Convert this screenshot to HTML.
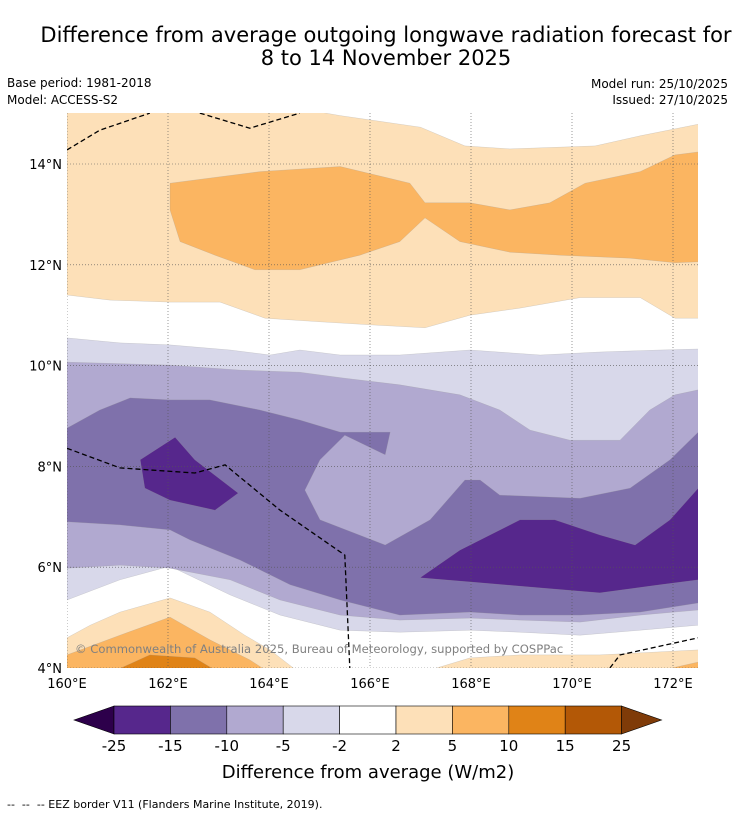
<!DOCTYPE html>
<html><head><meta charset="utf-8">
<style>
body{margin:0;background:#fff;font-family:"Liberation Sans","DejaVu Sans",sans-serif;}
svg{display:block}
</style></head>
<body>
<svg id="map" width="736" height="816" viewBox="0 0 736 816" xmlns="http://www.w3.org/2000/svg" font-family="DejaVu Sans, Liberation Sans, sans-serif">
  <text x="386" y="42" text-anchor="middle" font-size="21">Difference from average outgoing longwave radiation forecast for</text>
  <text x="386" y="65" text-anchor="middle" font-size="21">8 to 14 November 2025</text>
  <text x="7" y="87" font-size="12">Base period: 1981-2018</text>
  <text x="7" y="104" font-size="12">Model: ACCESS-S2</text>
  <text x="728" y="88" text-anchor="end" font-size="12">Model run: 25/10/2025</text>
  <text x="728" y="104" text-anchor="end" font-size="12">Issued: 27/10/2025</text>
  <defs><clipPath id="plotclip"><rect x="67" y="113" width="631" height="555"/></clipPath></defs>
  <g id="fills" clip-path="url(#plotclip)"></g>
  <g id="grid" clip-path="url(#plotclip)"></g>
  <g id="eez" clip-path="url(#plotclip)"></g>
  <text x="75" y="653" font-size="11.6" fill="#808080">© Commonwealth of Australia 2025, Bureau of Meteorology, supported by COSPPac</text>
  <g id="axes"></g>
  <g id="cbar"></g>
  <text x="368" y="778" text-anchor="middle" font-size="18">Difference from average (W/m2)</text>
  <text x="7" y="808" font-size="11" xml:space="preserve">--  --  -- EEZ border V11 (Flanders Marine Institute, 2019).</text>
</svg>
<script>
const lonTicks=[160,162,164,166,168,170,172];
const latTicks=[4,6,8,10,12,14];
const levels=[-25,-15,-10,-5,-2,2,5,10,15,25];
const colors=["#56278c","#7f71ab","#b1a9d0","#d8d8ea","#ffffff","#fde0b8","#fbb561","#e08317","#b35806"];
const lightOrangeTop=[[160,15.1],[164.61,15.1],[165.41,14.96],[167,14.73],[167.88,14.36],[168.77,14.3],[170.46,14.36],[171.35,14.56],[172.5,14.79],[172.5,10.94],[172.04,10.94],[171.35,11.35],[170.16,11.35],[168.97,11.14],[167.98,11.0],[167.09,10.75],[166,10.81],[165.01,10.87],[163.92,10.94],[163.03,11.26],[162.04,11.26],[160.85,11.3],[160,11.4]];
const orangeTop=[[162.04,13.62],[163.82,13.85],[165.41,13.95],[166.79,13.62],[167.09,13.23],[167.98,13.23],[168.77,13.09],[169.56,13.23],[170.26,13.62],[171.35,13.85],[172.04,14.18],[172.5,14.24],[172.5,12.06],[172.04,12.04],[171.15,12.13],[169.76,12.19],[168.77,12.25],[167.78,12.46],[167.09,12.93],[166.59,12.46],[165.8,12.19],[164.61,11.9],[163.72,11.9],[162.93,12.19],[162.24,12.46],[162.04,13.09]];
const lavender=[[160,10.55],[161.05,10.45],[162.04,10.41],[163.23,10.31],[164.02,10.21],[164.61,10.31],[165.41,10.21],[166.59,10.21],[167.98,10.31],[169.37,10.21],[170.55,10.27],[171.74,10.31],[172.5,10.33],[172.5,4.85],[171.35,4.75],[170.16,4.65],[168.97,4.71],[167.98,4.75],[166.59,4.71],[165.41,4.75],[164.22,5.05],[163.23,5.45],[162.04,6.02],[161.05,5.75],[160,5.35]];
const lilac=[[160,10.07],[162.04,10.01],[163.43,9.91],[164.61,9.87],[165.5,9.75],[166.59,9.62],[167.78,9.42],[168.57,9.12],[169.17,8.72],[169.96,8.52],[170.95,8.52],[171.54,9.12],[172.04,9.42],[172.5,9.52],[172.5,5.15],[171.35,5.05],[170.16,4.91],[168.97,4.95],[167.98,4.99],[166.59,4.95],[165.41,5.05],[164.22,5.35],[163.23,5.75],[162.04,5.98],[161.05,6.04],[160,5.98]];
const midPurple=[[160,8.76],[160.65,9.12],[161.25,9.36],[162.04,9.32],[162.83,9.32],[163.82,9.12],[164.61,8.92],[165.41,8.68],[166.4,8.68],[166.3,8.23],[165.5,8.62],[165.01,8.13],[164.71,7.53],[165.01,6.94],[166.3,6.44],[167.19,6.94],[167.88,7.73],[168.18,7.73],[168.57,7.43],[170.16,7.37],[171.15,7.57],[171.94,8.13],[172.5,8.68],[172.5,5.29],[171.35,5.11],[170.16,5.05],[168.97,5.05],[167.98,5.11],[166.59,5.05],[165.41,5.35],[164.42,5.65],[163.43,6.14],[162.44,6.54],[162.04,6.74],[161.05,6.84],[160,6.9]];
const darkLeft=[[161.45,8.13],[162.14,8.58],[162.53,8.13],[163.39,7.47],[162.93,7.13],[162.04,7.33],[161.54,7.57]];
const darkRight=[[166.99,5.79],[167.78,6.34],[168.97,6.94],[169.66,6.94],[170.55,6.64],[171.25,6.44],[171.94,6.94],[172.5,7.57],[172.5,5.75],[171.74,5.65],[170.55,5.49],[169.37,5.59],[168.18,5.69]];
const lightOrangeBot=[[160,4.6],[160.46,4.85],[161.05,5.11],[162.04,5.39],[162.83,5.11],[163.52,4.65],[164.02,4.36],[164.61,3.9],[160,3.9]];
const orangeBot=[[160,4.26],[161.05,4.65],[162.04,5.01],[162.83,4.56],[163.62,4.16],[164.02,3.9],[160,3.9]];
const deepOrangeBot=[[160.85,3.9],[161.64,4.26],[162.53,4.2],[163.03,3.9]];
const lightOrangeBR=[[166.99,3.9],[167.98,4.2],[168.97,4.26],[170.55,4.26],[172.5,4.36],[172.5,3.9]];
const orangeBR=[[171.54,3.9],[172.5,4.12],[172.5,3.9]];
const eezTopA=[[160,14.28],[160.65,14.67],[161.64,15.01]];
const eezTopB=[[162.63,15.01],[163.62,14.71],[164.61,15.01]];
const eezMid=[[160,8.36],[161.05,7.97],[162.53,7.87],[163.13,8.03],[164.22,7.13],[165.5,6.24],[165.6,4]];
const eezBR=[[170.75,4],[170.95,4.26],[172.5,4.6]];
const X0=67,Y0=668,PXLON=50.5,PXLAT=50.4;
function xs(lon){return X0+(lon-160)*PXLON;}
function ys(lat){return Y0-(lat-4)*PXLAT;}
const NS="http://www.w3.org/2000/svg";
function mk(tag,attrs,parent){const e=document.createElementNS(NS,tag);for(const k in attrs)e.setAttribute(k,attrs[k]);parent.appendChild(e);return e;}
function pts(a){return a.map(p=>xs(p[0]).toFixed(1)+","+ys(p[1]).toFixed(1)).join(" ");}
const fills=document.getElementById('fills');
const layers=[[lightOrangeTop,5,'light-orange-north'],[orangeTop,6,'orange-north'],[lavender,3,'band-minus2-minus5'],[lilac,2,'band-minus5-minus10'],[midPurple,1,'band-minus10-minus15'],[darkLeft,0,'dark-purple-west'],[darkRight,0,'dark-purple-east'],[lightOrangeBot,5,'light-orange-south'],[orangeBot,6,'orange-south'],[deepOrangeBot,7,'deep-orange-south'],[lightOrangeBR,5,'light-orange-southeast'],[orangeBR,6,'orange-southeast']];
layers.forEach(L=>{
  const p=mk('polygon',{points:pts(L[0]),fill:colors[L[1]],stroke:'#999',"stroke-width":0.4,"stroke-opacity":0.5},fills);
  
  
});
const grid=document.getElementById('grid');
lonTicks.forEach(l=>{const g=mk('line',{x1:xs(l),x2:xs(l),y1:113,y2:668,stroke:'#555',"stroke-width":0.6,"stroke-dasharray":"1,2"},grid);
  
  });
latTicks.forEach(l=>{const g=mk('line',{x1:67,x2:698,y1:ys(l),y2:ys(l),stroke:'#555',"stroke-width":0.6,"stroke-dasharray":"1,2"},grid);
  
  });
const eez=document.getElementById('eez');
[eezTopA,eezTopB,eezMid,eezBR].forEach((a,i)=>{const e=mk('polyline',{points:pts(a),fill:'none',stroke:'#000',"stroke-width":1.3,"stroke-dasharray":"5,3"},eez);
  
  });
const axes=document.getElementById('axes');
lonTicks.forEach(l=>{const t=mk('text',{x:xs(l),y:688,"text-anchor":"middle","font-size":13},axes);t.textContent=l+"°E";
  
  });
latTicks.forEach(l=>{const t=mk('text',{x:62,y:ys(l)+5,"text-anchor":"end","font-size":13},axes);t.textContent=l+"°N";
  
  });
const cb=document.getElementById('cbar');
const cx0=114,cw=56.4,cy=706,ch=28;
const lt=mk('polygon',{points:`74,${cy+ch/2} ${cx0},${cy} ${cx0},${cy+ch}`,fill:'#2d004b',stroke:'#000',"stroke-width":0.6},cb);


colors.forEach((c,i)=>{const r=mk('rect',{x:cx0+i*cw,y:cy,width:cw,height:ch,fill:c,stroke:'#000',"stroke-width":0.6},cb);
  
  });
const xe=cx0+colors.length*cw;
const rt=mk('polygon',{points:`${xe},${cy} ${xe+40},${cy+ch/2} ${xe},${cy+ch}`,fill:'#7f3b08',stroke:'#000',"stroke-width":0.6},cb);


levels.forEach((v,i)=>{const t=mk('text',{x:cx0+i*cw,y:751,"text-anchor":"middle","font-size":15},cb);t.textContent=v;
  
  });
</script>
</body></html>
